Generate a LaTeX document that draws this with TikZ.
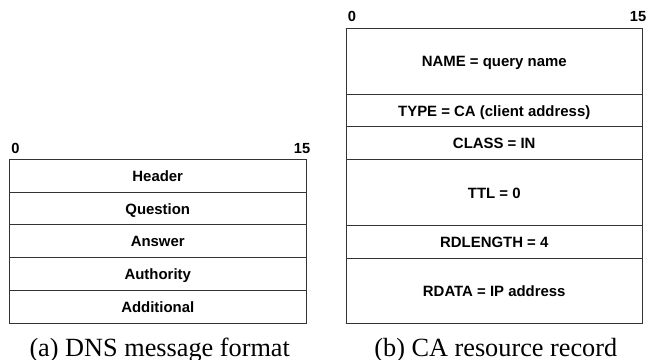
\documentclass[tikz,border=0pt]{standalone}
\usepackage{fontspec}
\setmainfont{Liberation Serif}
\setsansfont{Liberation Sans}
\begin{document}
\begin{tikzpicture}[x=0.75pt,y=-0.75pt,
  field/.style={draw=black!80, line width=0.65pt, minimum width=222.4pt, inner sep=0pt,
    text height=9pt, text depth=0.5pt,
    font=\sffamily\bfseries\fontsize{11.2}{13}\selectfont},
  one/.style={field, minimum height=24.6pt},
  two/.style={field, minimum height=49.2pt},
  bitlbl/.style={font=\sffamily\bfseries\fontsize{11}{13}\selectfont, inner sep=0pt},
  caption/.style={font=\fontsize{19.7}{22}\selectfont, inner sep=0pt, anchor=base}]
\useasboundingbox (0,0) rectangle (647,360);
% (a) DNS message format
\node[one] (hdr) at (157.75,175.7) {Header};
\node[one] (qst) at (157.75,208.5) {Question};
\node[one] (ans) at (157.75,241.3) {Answer};
\node[one] (aut) at (157.75,274.1) {Authority};
\node[one] (add) at (157.75,306.9) {Additional};
\node[bitlbl, anchor=base west] (a0) at (11,153.3) {0};
\node[bitlbl, anchor=base east] (a15) at (310.5,153.3) {15};
\node[caption] (capa) at (159.7,356) {(a) DNS message format};
% (b) CA resource record
\node[two] (name) at (494.25,61.3) {NAME = query name};
\node[one] (type) at (494.25,110.5) {TYPE = CA (client address)};
\node[one] (class) at (494.25,143.3) {CLASS = IN};
\node[two] (ttl) at (494.25,192.5) {TTL = 0};
\node[one] (rdlen) at (494.25,241.7) {RDLENGTH = 4};
\node[two] (rdata) at (494.25,290.9) {RDATA = IP address};
\node[bitlbl, anchor=base west] (b0) at (347.5,22) {0};
\node[bitlbl, anchor=base east] (b15) at (646.5,22) {15};
\node[caption] (capb) at (495.8,356) {(b) CA resource record};
\end{tikzpicture}
\end{document}
